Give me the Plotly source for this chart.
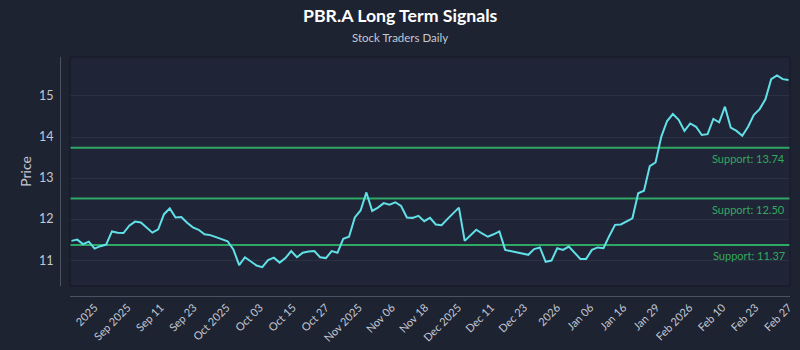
import numpy as np
import plotly.graph_objects as go

# ---- data ----
prices = [
    11.47, 11.50, 11.39, 11.45, 11.28, 11.34, 11.38, 11.70, 11.67, 11.66,
    11.84, 11.94, 11.92, 11.80, 11.67, 11.75, 12.12, 12.26, 12.04, 12.05,
    11.91, 11.80, 11.74, 11.63, 11.61, 11.56, 11.51, 11.46, 11.26, 10.88,
    11.07, 10.96, 10.87, 10.83, 11.00, 11.06, 10.94, 11.05, 11.22, 11.07,
    11.18, 11.21, 11.22, 11.07, 11.05, 11.22, 11.18, 11.52, 11.57, 12.04,
    12.21, 12.65, 12.20, 12.28, 12.39, 12.35, 12.41, 12.32, 12.04, 12.03,
    12.08, 11.95, 12.03, 11.87, 11.85, 12.00, 12.14, 12.28, 11.47, 11.61,
    11.74, 11.65, 11.57, 11.63, 11.70, 11.25, 11.22, 11.19, 11.17, 11.13,
    11.27, 11.31, 10.96, 10.99, 11.29, 11.25, 11.33, 11.18, 11.03, 11.03,
    11.25, 11.31, 11.29, 11.59, 11.86, 11.87, 11.95, 12.02, 12.63, 12.69,
    13.29, 13.38, 14.01, 14.39, 14.56, 14.42, 14.15, 14.33, 14.25, 14.05,
    14.07, 14.44, 14.36, 14.74, 14.23, 14.15, 14.03, 14.25, 14.54, 14.68,
    14.92, 15.41, 15.50, 15.41, 15.39,
]
tick_labels = [
    "2025", "Sep 2025", "Sep 11", "Sep 23", "Oct 2025", "Oct 03", "Oct 15",
    "Oct 27", "Nov 2025", "Nov 06", "Nov 18", "Dec 2025", "Dec 11", "Dec 23",
    "2026", "Jan 06", "Jan 16", "Jan 29", "Feb 2026", "Feb 10", "Feb 23", "Feb 27",
]
support_levels = [13.74, 12.50, 11.37]

# ---- style ----
BG = "#1e2332"
PLOT_BG = "#1f2536"
GRID = "#2a3142"
AXIS = "#4b5264"
TEXT = "#c3c8d2"
LINE = "#62e0e8"
GREEN = "#2fa866"
GREEN_TXT = "#34a85f"
FONT = "Lato"

x = list(range(len(prices)))
tickvals = list(np.linspace(4, len(prices) - 1, len(tick_labels)))

fig = go.Figure()
fig.add_trace(go.Scatter(
    x=x, y=prices, mode="lines",
    line=dict(color=LINE, width=2),
    hoverinfo="skip", showlegend=False,
))

for lvl in support_levels:
    fig.add_shape(type="line", xref="x domain", yref="y",
                  x0=0, x1=1, y0=lvl, y1=lvl,
                  line=dict(color=GREEN, width=2), layer="below")
    fig.add_annotation(xref="x domain", yref="y", x=1, y=lvl,
                       text=f"Support: {lvl:.2f}", showarrow=False,
                       xanchor="right", yanchor="middle", xshift=-3, yshift=-11,
                       font=dict(family=FONT, size=11, color=GREEN_TXT))

# plot frame
fig.add_shape(type="rect", xref="x domain", yref="y domain",
              x0=0, x1=1, y0=0, y1=1,
              line=dict(color="#141925", width=1), layer="above")

W, H = 800, 350
ml, mr, mt, mb = 60, 10, 57, 54
pw = W - ml - mr
ph = H - mt - mb

fig.add_annotation(xref="paper", yref="paper",
                   x=(400 - ml) / pw, y=(H - mb - 15) / ph,
                   text="<b>PBR.A Long Term Signals</b>", showarrow=False,
                   xanchor="center", yanchor="middle",
                   font=dict(family=FONT, size=17.7, color="#ffffff"))
fig.add_annotation(xref="paper", yref="paper",
                   x=(400 - ml) / pw, y=(H - mb - 38) / ph,
                   text="Stock Traders Daily", showarrow=False,
                   xanchor="center", yanchor="middle",
                   font=dict(family=FONT, size=11.5, color=TEXT))

fig.update_layout(
    width=W, height=H,
    margin=dict(l=ml, r=mr, t=mt, b=mb, autoexpand=False),
    paper_bgcolor=BG, plot_bgcolor=PLOT_BG,
    font=dict(family=FONT, color=TEXT),
    showlegend=False,
    xaxis=dict(
        domain=[10 / pw, 1], anchor="free", position=0, automargin=False,
        range=[-0.25, len(prices) - 0.75],
        showgrid=False, zeroline=False,
        showline=True, linecolor=AXIS, linewidth=1,
        tickmode="array", tickvals=tickvals, ticktext=tick_labels,
        tickangle=-45, ticks="", tickfont=dict(family=FONT, size=11, color=TEXT),
    ),
    yaxis=dict(
        domain=[10 / ph, 1], anchor="free", position=0, automargin=False,
        range=[10.37, 15.95],
        showgrid=True, gridcolor=GRID, gridwidth=1, zeroline=False,
        showline=True, linecolor=AXIS, linewidth=1,
        tickmode="array", tickvals=[11, 12, 13, 14, 15],
        ticks="", ticklabelstandoff=4,
        tickfont=dict(family=FONT, size=12.5, color=TEXT),
        title=dict(text="Price", font=dict(family=FONT, size=14, color=TEXT), standoff=3),
    ),
)

fig.write_html("out.html")
